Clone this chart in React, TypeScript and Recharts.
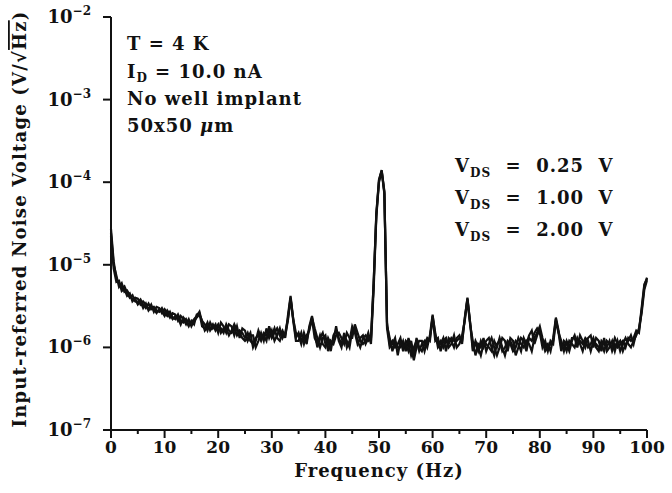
import { LineChart, Line, XAxis, YAxis, Customized } from "recharts";

// spectrum bins, 0.5 Hz apart
const freqHz = Array.from({ length: 201 }, (_, i) => i * 0.5);

// input-referred noise in µV/√Hz (1 = 10^-6 V/√Hz)
const vds025 = [
  27, 11, 6.8, 6.0, 5.2, 5.5, 4.6, 4.0, 4.3, 3.6,
  3.5, 3.8, 3.3, 3.0, 3.4, 2.9, 3.1, 2.8, 2.7, 3.0,
  2.6, 2.4, 2.7, 2.3, 2.2, 2.5, 2.1, 2.0, 2.2, 1.9,
  2.0, 2.2, 2.4, 2.7, 2.0, 1.6, 1.8, 1.7, 1.9, 1.6,
  1.8, 1.7, 1.5, 1.9, 1.6, 1.5, 1.7, 1.4, 1.6, 1.5,
  1.3, 1.5, 1.2, 1.1, 1.3, 1.4, 1.2, 1.5, 1.4, 1.6,
  1.3, 1.5, 1.7, 1.4, 1.6, 1.3, 2.4, 4.2, 2.2, 1.3,
  1.5, 1.2, 1.4, 1.1, 1.8, 2.4, 1.5, 1.0, 1.3, 1.5,
  1.1, 1.2, 0.9, 1.4, 1.6, 1.3, 1.1, 1.4, 1.2, 1.0,
  1.6, 1.7, 1.2, 1.0, 1.3, 1.4, 1.2, 1.3, 6, 40,
  105, 140, 75, 2.0, 1.1, 1.2, 1.0, 1.1, 1.3, 0.9,
  1.2, 1.1, 0.8, 1.0, 1.2, 0.9, 1.1, 1.2, 1.0, 1.4,
  2.5, 1.4, 1.1, 1.2, 1.0, 1.2, 1.1, 1.3, 1.2, 1.2,
  1.3, 1.2, 2.2, 4.0, 2.0, 1.0, 1.1, 0.9, 1.2, 1.0,
  1.2, 1.3, 1.0, 0.8, 1.1, 1.2, 0.9, 1.0, 1.2, 1.1,
  0.9, 1.0, 1.3, 1.1, 1.0, 1.2, 1.1, 0.9, 1.3, 1.5,
  1.8, 1.3, 1.0, 1.1, 0.9, 1.3, 2.3, 1.6, 1.0, 1.1,
  0.9, 1.2, 1.1, 1.0, 1.3, 1.1, 0.9, 1.2, 1.0, 1.1,
  1.3, 1.0, 0.9, 1.2, 1.1, 1.0, 1.2, 0.9, 1.1, 1.0,
  1.1, 1.2, 1.0, 1.3, 1.2, 1.3, 1.6, 1.5, 2.8, 5.5,
  7.0,
];

const vds100 = [
  24, 10, 7.4, 5.4, 6.0, 4.7, 4.9, 4.3, 3.8, 4.0,
  3.9, 3.3, 3.6, 3.3, 2.9, 3.3, 2.7, 3.1, 3.0, 2.6,
  2.9, 2.6, 2.3, 2.6, 2.5, 2.1, 2.4, 2.2, 1.9, 2.2,
  1.8, 2.1, 2.3, 2.5, 2.1, 1.9, 1.6, 2.0, 1.7, 1.9,
  1.5, 2.0, 1.8, 1.5, 1.9, 1.8, 1.4, 1.8, 1.3, 1.7,
  1.6, 1.2, 1.4, 1.4, 1.0, 1.2, 1.5, 1.2, 1.7, 1.3,
  1.6, 1.2, 1.4, 1.7, 1.3, 1.5, 2.2, 4.0, 2.1, 1.2,
  1.2, 1.5, 1.1, 1.4, 1.6, 2.3, 1.7, 1.3, 1.0, 1.3,
  1.4, 0.9, 1.2, 1.1, 1.4, 1.5, 1.3, 1.1, 1.5, 1.3,
  1.3, 1.9, 1.5, 1.2, 1.1, 1.2, 1.5, 1.1, 5, 38,
  100, 135, 72, 1.8, 1.3, 0.9, 1.2, 1.0, 1.0, 1.2,
  0.9, 1.3, 1.0, 0.7, 1.0, 1.2, 1.2, 0.9, 1.2, 1.3,
  2.3, 1.2, 1.3, 0.9, 1.2, 1.3, 1.0, 1.1, 1.4, 1.0,
  1.1, 1.4, 2.1, 3.8, 1.9, 1.2, 0.8, 1.1, 1.0, 1.3,
  0.9, 1.1, 1.3, 1.0, 0.8, 1.0, 1.3, 1.2, 0.9, 1.3,
  1.2, 0.8, 1.0, 1.3, 1.2, 0.9, 1.3, 1.2, 1.5, 1.7,
  1.5, 1.0, 1.2, 0.9, 1.2, 1.1, 2.1, 1.5, 1.2, 0.9,
  1.2, 1.0, 1.3, 1.3, 1.0, 1.4, 1.2, 1.0, 1.3, 1.4,
  1.0, 1.3, 1.2, 0.9, 1.3, 0.9, 1.0, 1.2, 0.9, 1.2,
  0.9, 1.1, 1.3, 1.1, 1.0, 1.2, 1.4, 1.7, 2.6, 5.0,
  6.5,
];

const vds200 = [
  22, 9, 6.2, 6.4, 4.8, 5.1, 4.2, 4.5, 3.6, 3.9,
  3.3, 3.6, 3.0, 3.4, 2.8, 3.1, 2.9, 2.6, 2.9, 2.7,
  2.4, 2.8, 2.5, 2.2, 2.4, 2.3, 1.9, 2.3, 2.1, 1.8,
  2.1, 1.9, 2.5, 2.6, 1.8, 1.7, 2.0, 1.6, 1.8, 1.7,
  1.9, 1.5, 1.7, 1.7, 1.4, 1.6, 1.9, 1.6, 1.5, 1.3,
  1.2, 1.3, 1.5, 1.0, 1.2, 1.6, 1.3, 1.4, 1.2, 1.8,
  1.4, 1.7, 1.3, 1.2, 1.5, 1.4, 2.1, 3.9, 2.2, 1.5,
  1.4, 1.1, 1.5, 1.2, 1.7, 2.2, 1.3, 1.1, 1.4, 1.1,
  1.0, 1.3, 1.1, 1.2, 1.8, 1.2, 1.0, 1.5, 1.0, 1.2,
  1.8, 1.5, 1.1, 1.3, 1.4, 1.1, 1.3, 1.2, 6, 42,
  108, 138, 78, 1.7, 1.0, 1.1, 1.3, 0.8, 1.2, 1.0,
  1.1, 0.9, 1.2, 0.8, 1.3, 1.0, 0.9, 1.1, 1.3, 1.2,
  2.4, 1.5, 1.0, 1.1, 1.3, 0.9, 1.3, 1.2, 1.0, 1.3,
  1.4, 1.1, 2.3, 3.9, 2.0, 0.9, 1.2, 1.0, 0.8, 1.1,
  1.1, 1.0, 0.9, 1.2, 1.0, 1.3, 1.0, 0.8, 1.1, 1.2,
  1.0, 1.2, 1.1, 0.9, 1.3, 1.1, 1.4, 1.6, 1.1, 1.4,
  1.6, 1.2, 0.9, 1.0, 1.1, 1.2, 2.2, 1.5, 0.9, 1.2,
  1.1, 0.9, 1.2, 1.4, 1.1, 1.2, 1.1, 1.3, 1.2, 0.9,
  1.2, 1.1, 1.0, 1.1, 0.9, 1.2, 1.1, 1.0, 1.3, 1.1,
  1.2, 0.9, 1.1, 1.2, 1.4, 1.1, 1.5, 1.6, 3.0, 5.8,
  6.8,
];

const xTicks = [0, 5, 10, 15, 20, 25, 30, 35, 40, 45, 50, 55, 60, 65, 70, 75, 80, 85, 90, 95, 100];
const yTicks = [0.1, 1, 10, 100, 1000, 10000];

const data = freqHz.map((f, i) => ({
  f,
  a: vds025[i],
  b: vds100[i],
  c: vds200[i],
}));

const INK = "#111";
const FONT = "'DejaVu Serif', serif";

function XTick({ x, y, payload }: any) {
  const major = payload.value % 10 === 0;
  return (
    <g>
      <line x1={x} x2={x} y1={y} y2={y + (major ? 8 : 4)} stroke={INK} strokeWidth={2} />
      {major && (
        <text x={x} y={y + 23} textAnchor="middle" fontFamily={FONT} fontWeight="bold" fontSize={17} fill={INK}>
          {payload.value}
        </text>
      )}
    </g>
  );
}

function YTick({ x, y, payload }: any) {
  const exp = Math.round(Math.log10(payload.value)) - 6;
  return (
    <g>
      <line x1={x - 8} x2={x} y1={y} y2={y} stroke={INK} strokeWidth={2} />
      <text x={x - 20} y={y + 6} textAnchor="end" fontFamily={FONT} fontWeight="bold" fontSize={18} fill={INK}>
        <tspan>10</tspan>
        <tspan dy={-8} fontSize={12}>{"\u2212" + Math.abs(exp)}</tspan>
      </text>
    </g>
  );
}

function Notes() {
  const t = {
    fontFamily: FONT,
    fontWeight: "bold" as const,
    fontSize: 18,
    fill: INK,
    letterSpacing: 1,
  };
  const pre = { ...t, style: { whiteSpace: "pre" as const } };
  const sub = { fontSize: 12 };
  return (
    <g>
      <text {...t} x={127} y={50}>T = 4 K</text>
      <text {...t} x={127} y={78}>
        I<tspan dy={4} {...sub}>D</tspan><tspan dy={-4}> = 10.0 nA</tspan>
      </text>
      <text {...t} x={127} y={105}>No well implant</text>
      <text {...t} x={127} y={132}>
        50x50 <tspan fontStyle="italic">μ</tspan>m
      </text>
      {["0.25", "1.00", "2.00"].map((v, i) => (
        <text key={v} {...pre} x={455} y={172 + i * 32}>
          V<tspan dy={5} {...sub}>DS</tspan><tspan dy={-5}>  =  {v}  V</tspan>
        </text>
      ))}
      <text {...t} letterSpacing={1.2} transform="translate(26,219) rotate(-90)" textAnchor="middle">
        Input-referred Noise Voltage (V/√<tspan textDecoration="overline">Hz</tspan>)
      </text>
    </g>
  );
}

export default function App() {
  return (
    <div style={{ position: "absolute", left: 0, top: 0, width: 672, height: 493, background: "#fff" }}>
      <LineChart width={672} height={493} data={data} margin={{ top: 17, right: 25, bottom: 23, left: 0 }}>
        <XAxis
          dataKey="f"
          type="number"
          domain={[0, 100]}
          ticks={xTicks}
          interval={0}
          tickSize={0}
          tickMargin={0}
          tickLine={false}
          tick={<XTick />}
          axisLine={{ stroke: INK, strokeWidth: 2 }}
          height={40}
        />
        <XAxis xAxisId="top" orientation="top" type="number" domain={[0, 100]} height={0} tick={false} tickLine={false} axisLine={{ stroke: INK, strokeWidth: 2 }} />
        <YAxis
          type="number"
          scale="log"
          domain={[0.1, 10000]}
          ticks={yTicks}
          interval={0}
          allowDataOverflow
          tickSize={0}
          tickMargin={0}
          tickLine={false}
          tick={<YTick />}
          axisLine={{ stroke: INK, strokeWidth: 2 }}
          width={111}
        />
        <YAxis yAxisId="right" orientation="right" width={0} tick={false} tickLine={false} axisLine={{ stroke: INK, strokeWidth: 2 }} />
        <Line dataKey="a" type="linear" stroke={INK} strokeWidth={2.2} dot={false} isAnimationActive={false} />
        <Line dataKey="b" type="linear" stroke={INK} strokeWidth={2.2} dot={false} isAnimationActive={false} />
        <Line dataKey="c" type="linear" stroke={INK} strokeWidth={2.2} dot={false} isAnimationActive={false} />
        <Customized component={<Notes />} />
      </LineChart>
      <div
        style={{
          position: "absolute",
          left: 111,
          width: 536,
          top: 460,
          textAlign: "center",
          fontFamily: FONT,
          fontWeight: "bold",
          fontSize: 18,
          letterSpacing: 1,
          color: INK,
        }}
      >
        Frequency (Hz)
      </div>
    </div>
  );
}
